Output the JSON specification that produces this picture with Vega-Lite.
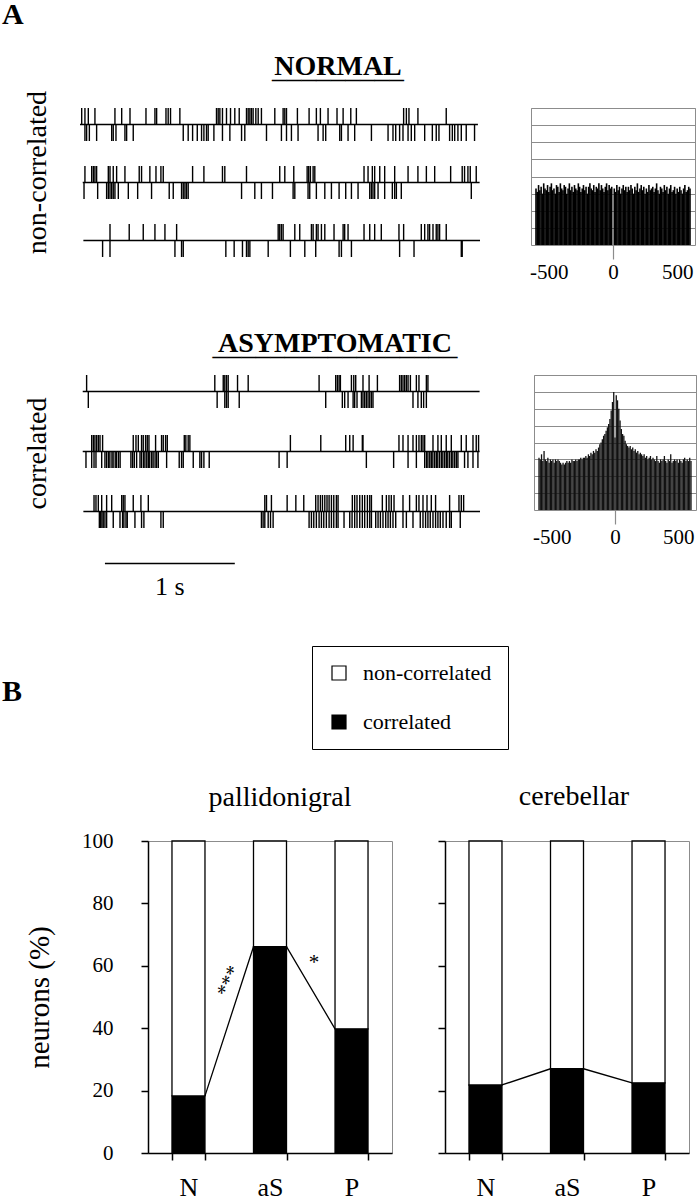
{
"$schema":"https://vega.github.io/schema/vega-lite/v6.json",
"background":"white",
"padding":{"left":2,"top":0,"right":0,"bottom":0},
"config":{
 "font":"Liberation Serif",
 "view":{"stroke":null},
 "title":{"font":"Liberation Serif","color":"black","subtitleFont":"Liberation Serif","subtitleColor":"black"},
 "axis":{"labelFont":"Liberation Serif","titleFont":"Liberation Serif","labelColor":"black","titleColor":"black","titleFontWeight":"normal"},
 "legend":{"labelFont":"Liberation Serif","labelColor":"black"}
},
"datasets":{
 "lines":[
  {"rec":"N","row":1,"t0":0,"t1":3064},{"rec":"N","row":2,"t0":21,"t1":3077},{"rec":"N","row":3,"t0":26,"t1":3080},
  {"rec":"A","row":1,"t0":21,"t1":3077},{"rec":"A","row":2,"t0":21,"t1":3077},{"rec":"A","row":3,"t0":26,"t1":3080}
 ],
 "scalebar":[{"rec":"A","row":"scale","t0":192,"t1":1192,"label":"1 s"}],
 "spikes":[
  {"rec":"N","row":1,"cell":"up","t":13},{"rec":"N","row":1,"cell":"up","t":38},{"rec":"N","row":1,"cell":"up","t":64},{"rec":"N","row":1,"cell":"up","t":115},{"rec":"N","row":1,"cell":"up","t":269},{"rec":"N","row":1,"cell":"up","t":321},{"rec":"N","row":1,"cell":"up","t":385},{"rec":"N","row":1,"cell":"up","t":508},{"rec":"N","row":1,"cell":"up","t":577},{"rec":"N","row":1,"cell":"up","t":590},{"rec":"N","row":1,"cell":"up","t":662},{"rec":"N","row":1,"cell":"up","t":679},{"rec":"N","row":1,"cell":"up","t":697},{"rec":"N","row":1,"cell":"up","t":769},{"rec":"N","row":1,"cell":"up","t":1051},{"rec":"N","row":1,"cell":"up","t":1064},{"rec":"N","row":1,"cell":"up","t":1077},{"rec":"N","row":1,"cell":"up","t":1097},{"rec":"N","row":1,"cell":"up","t":1128},{"rec":"N","row":1,"cell":"up","t":1159},{"rec":"N","row":1,"cell":"up","t":1192},{"rec":"N","row":1,"cell":"up","t":1226},{"rec":"N","row":1,"cell":"up","t":1282},{"rec":"N","row":1,"cell":"up","t":1295},{"rec":"N","row":1,"cell":"up","t":1308},{"rec":"N","row":1,"cell":"up","t":1320},{"rec":"N","row":1,"cell":"up","t":1333},{"rec":"N","row":1,"cell":"up","t":1354},{"rec":"N","row":1,"cell":"up","t":1372},{"rec":"N","row":1,"cell":"up","t":1397},{"rec":"N","row":1,"cell":"up","t":1500},{"rec":"N","row":1,"cell":"up","t":1564},{"rec":"N","row":1,"cell":"up","t":1577},{"rec":"N","row":1,"cell":"up","t":1590},{"rec":"N","row":1,"cell":"up","t":1674},{"rec":"N","row":1,"cell":"up","t":1764},{"rec":"N","row":1,"cell":"up","t":1820},{"rec":"N","row":1,"cell":"up","t":1851},{"rec":"N","row":1,"cell":"up","t":1910},{"rec":"N","row":1,"cell":"up","t":1979},{"rec":"N","row":1,"cell":"up","t":2026},{"rec":"N","row":1,"cell":"up","t":2085},{"rec":"N","row":1,"cell":"up","t":2128},{"rec":"N","row":1,"cell":"up","t":2492},{"rec":"N","row":1,"cell":"up","t":2513},{"rec":"N","row":1,"cell":"up","t":2533},{"rec":"N","row":1,"cell":"up","t":2602},{"rec":"N","row":1,"cell":"up","t":2820},
  {"rec":"N","row":1,"cell":"down","t":38},{"rec":"N","row":1,"cell":"down","t":51},{"rec":"N","row":1,"cell":"down","t":72},{"rec":"N","row":1,"cell":"down","t":128},{"rec":"N","row":1,"cell":"down","t":244},{"rec":"N","row":1,"cell":"down","t":256},{"rec":"N","row":1,"cell":"down","t":277},{"rec":"N","row":1,"cell":"down","t":346},{"rec":"N","row":1,"cell":"down","t":359},{"rec":"N","row":1,"cell":"down","t":410},{"rec":"N","row":1,"cell":"down","t":795},{"rec":"N","row":1,"cell":"down","t":833},{"rec":"N","row":1,"cell":"down","t":867},{"rec":"N","row":1,"cell":"down","t":903},{"rec":"N","row":1,"cell":"down","t":936},{"rec":"N","row":1,"cell":"down","t":954},{"rec":"N","row":1,"cell":"down","t":974},{"rec":"N","row":1,"cell":"down","t":987},{"rec":"N","row":1,"cell":"down","t":1031},{"rec":"N","row":1,"cell":"down","t":1097},{"rec":"N","row":1,"cell":"down","t":1154},{"rec":"N","row":1,"cell":"down","t":1244},{"rec":"N","row":1,"cell":"down","t":1269},{"rec":"N","row":1,"cell":"down","t":1436},{"rec":"N","row":1,"cell":"down","t":1551},{"rec":"N","row":1,"cell":"down","t":1590},{"rec":"N","row":1,"cell":"down","t":1628},{"rec":"N","row":1,"cell":"down","t":1679},{"rec":"N","row":1,"cell":"down","t":1833},{"rec":"N","row":1,"cell":"down","t":1872},{"rec":"N","row":1,"cell":"down","t":1892},{"rec":"N","row":1,"cell":"down","t":2000},{"rec":"N","row":1,"cell":"down","t":2013},{"rec":"N","row":1,"cell":"down","t":2064},{"rec":"N","row":1,"cell":"down","t":2115},{"rec":"N","row":1,"cell":"down","t":2244},{"rec":"N","row":1,"cell":"down","t":2372},{"rec":"N","row":1,"cell":"down","t":2410},{"rec":"N","row":1,"cell":"down","t":2431},{"rec":"N","row":1,"cell":"down","t":2461},{"rec":"N","row":1,"cell":"down","t":2487},{"rec":"N","row":1,"cell":"down","t":2526},{"rec":"N","row":1,"cell":"down","t":2551},{"rec":"N","row":1,"cell":"down","t":2577},{"rec":"N","row":1,"cell":"down","t":2654},{"rec":"N","row":1,"cell":"down","t":2713},{"rec":"N","row":1,"cell":"down","t":2743},{"rec":"N","row":1,"cell":"down","t":2764},{"rec":"N","row":1,"cell":"down","t":2846},{"rec":"N","row":1,"cell":"down","t":2867},{"rec":"N","row":1,"cell":"down","t":2885},{"rec":"N","row":1,"cell":"down","t":2910},{"rec":"N","row":1,"cell":"down","t":2936},{"rec":"N","row":1,"cell":"down","t":2974},{"rec":"N","row":1,"cell":"down","t":3038},
  {"rec":"N","row":2,"cell":"up","t":38},{"rec":"N","row":2,"cell":"up","t":90},{"rec":"N","row":2,"cell":"up","t":103},{"rec":"N","row":2,"cell":"up","t":115},{"rec":"N","row":2,"cell":"up","t":128},{"rec":"N","row":2,"cell":"up","t":218},{"rec":"N","row":2,"cell":"up","t":231},{"rec":"N","row":2,"cell":"up","t":256},{"rec":"N","row":2,"cell":"up","t":282},{"rec":"N","row":2,"cell":"up","t":346},{"rec":"N","row":2,"cell":"up","t":456},{"rec":"N","row":2,"cell":"up","t":474},{"rec":"N","row":2,"cell":"up","t":538},{"rec":"N","row":2,"cell":"up","t":585},{"rec":"N","row":2,"cell":"up","t":623},{"rec":"N","row":2,"cell":"up","t":641},{"rec":"N","row":2,"cell":"up","t":867},{"rec":"N","row":2,"cell":"up","t":954},{"rec":"N","row":2,"cell":"up","t":1097},{"rec":"N","row":2,"cell":"up","t":1115},{"rec":"N","row":2,"cell":"up","t":1282},{"rec":"N","row":2,"cell":"up","t":1538},{"rec":"N","row":2,"cell":"up","t":1577},{"rec":"N","row":2,"cell":"up","t":1646},{"rec":"N","row":2,"cell":"up","t":1749},{"rec":"N","row":2,"cell":"up","t":1761},{"rec":"N","row":2,"cell":"up","t":1774},{"rec":"N","row":2,"cell":"up","t":1795},{"rec":"N","row":2,"cell":"up","t":1808},{"rec":"N","row":2,"cell":"up","t":2187},{"rec":"N","row":2,"cell":"up","t":2218},{"rec":"N","row":2,"cell":"up","t":2251},{"rec":"N","row":2,"cell":"up","t":2269},{"rec":"N","row":2,"cell":"up","t":2308},{"rec":"N","row":2,"cell":"up","t":2346},{"rec":"N","row":2,"cell":"up","t":2423},{"rec":"N","row":2,"cell":"up","t":2526},{"rec":"N","row":2,"cell":"up","t":2602},{"rec":"N","row":2,"cell":"up","t":2667},{"rec":"N","row":2,"cell":"up","t":2731},{"rec":"N","row":2,"cell":"up","t":2854},{"rec":"N","row":2,"cell":"up","t":2943},{"rec":"N","row":2,"cell":"up","t":2961},{"rec":"N","row":2,"cell":"up","t":2987},{"rec":"N","row":2,"cell":"up","t":3005},{"rec":"N","row":2,"cell":"up","t":3051},
  {"rec":"N","row":2,"cell":"down","t":31},{"rec":"N","row":2,"cell":"down","t":136},{"rec":"N","row":2,"cell":"down","t":205},{"rec":"N","row":2,"cell":"down","t":218},{"rec":"N","row":2,"cell":"down","t":231},{"rec":"N","row":2,"cell":"down","t":244},{"rec":"N","row":2,"cell":"down","t":256},{"rec":"N","row":2,"cell":"down","t":269},{"rec":"N","row":2,"cell":"down","t":295},{"rec":"N","row":2,"cell":"down","t":372},{"rec":"N","row":2,"cell":"down","t":444},{"rec":"N","row":2,"cell":"down","t":551},{"rec":"N","row":2,"cell":"down","t":687},{"rec":"N","row":2,"cell":"down","t":718},{"rec":"N","row":2,"cell":"down","t":782},{"rec":"N","row":2,"cell":"down","t":795},{"rec":"N","row":2,"cell":"down","t":808},{"rec":"N","row":2,"cell":"down","t":820},{"rec":"N","row":2,"cell":"down","t":833},{"rec":"N","row":2,"cell":"down","t":1244},{"rec":"N","row":2,"cell":"down","t":1346},{"rec":"N","row":2,"cell":"down","t":1397},{"rec":"N","row":2,"cell":"down","t":1482},{"rec":"N","row":2,"cell":"down","t":1641},{"rec":"N","row":2,"cell":"down","t":1654},{"rec":"N","row":2,"cell":"down","t":1756},{"rec":"N","row":2,"cell":"down","t":1769},{"rec":"N","row":2,"cell":"down","t":1820},{"rec":"N","row":2,"cell":"down","t":1885},{"rec":"N","row":2,"cell":"down","t":1936},{"rec":"N","row":2,"cell":"down","t":1995},{"rec":"N","row":2,"cell":"down","t":2046},{"rec":"N","row":2,"cell":"down","t":2090},{"rec":"N","row":2,"cell":"down","t":2141},{"rec":"N","row":2,"cell":"down","t":2231},{"rec":"N","row":2,"cell":"down","t":2244},{"rec":"N","row":2,"cell":"down","t":2256},{"rec":"N","row":2,"cell":"down","t":2269},{"rec":"N","row":2,"cell":"down","t":2295},{"rec":"N","row":2,"cell":"down","t":2346},{"rec":"N","row":2,"cell":"down","t":2405},{"rec":"N","row":2,"cell":"down","t":2423},{"rec":"N","row":2,"cell":"down","t":2436},{"rec":"N","row":2,"cell":"down","t":2474},{"rec":"N","row":2,"cell":"down","t":3013},
  {"rec":"N","row":3,"cell":"up","t":231},{"rec":"N","row":3,"cell":"up","t":379},{"rec":"N","row":3,"cell":"up","t":487},{"rec":"N","row":3,"cell":"up","t":577},{"rec":"N","row":3,"cell":"up","t":654},{"rec":"N","row":3,"cell":"up","t":744},{"rec":"N","row":3,"cell":"up","t":1526},{"rec":"N","row":3,"cell":"up","t":1538},{"rec":"N","row":3,"cell":"up","t":1551},{"rec":"N","row":3,"cell":"up","t":1564},{"rec":"N","row":3,"cell":"up","t":1654},{"rec":"N","row":3,"cell":"up","t":1692},{"rec":"N","row":3,"cell":"up","t":1782},{"rec":"N","row":3,"cell":"up","t":1795},{"rec":"N","row":3,"cell":"up","t":1820},{"rec":"N","row":3,"cell":"up","t":1833},{"rec":"N","row":3,"cell":"up","t":1859},{"rec":"N","row":3,"cell":"up","t":1885},{"rec":"N","row":3,"cell":"up","t":1956},{"rec":"N","row":3,"cell":"up","t":2026},{"rec":"N","row":3,"cell":"up","t":2038},{"rec":"N","row":3,"cell":"up","t":2064},{"rec":"N","row":3,"cell":"up","t":2187},{"rec":"N","row":3,"cell":"up","t":2231},{"rec":"N","row":3,"cell":"up","t":2269},{"rec":"N","row":3,"cell":"up","t":2320},{"rec":"N","row":3,"cell":"up","t":2456},{"rec":"N","row":3,"cell":"up","t":2492},{"rec":"N","row":3,"cell":"up","t":2628},{"rec":"N","row":3,"cell":"up","t":2654},{"rec":"N","row":3,"cell":"up","t":2679},{"rec":"N","row":3,"cell":"up","t":2692},{"rec":"N","row":3,"cell":"up","t":2718},{"rec":"N","row":3,"cell":"up","t":2743},{"rec":"N","row":3,"cell":"up","t":2756},{"rec":"N","row":3,"cell":"up","t":2769},{"rec":"N","row":3,"cell":"up","t":2820},
  {"rec":"N","row":3,"cell":"down","t":174},{"rec":"N","row":3,"cell":"down","t":231},{"rec":"N","row":3,"cell":"down","t":731},{"rec":"N","row":3,"cell":"down","t":782},{"rec":"N","row":3,"cell":"down","t":795},{"rec":"N","row":3,"cell":"down","t":1123},{"rec":"N","row":3,"cell":"down","t":1187},{"rec":"N","row":3,"cell":"down","t":1251},{"rec":"N","row":3,"cell":"down","t":1282},{"rec":"N","row":3,"cell":"down","t":1295},{"rec":"N","row":3,"cell":"down","t":1308},{"rec":"N","row":3,"cell":"down","t":1449},{"rec":"N","row":3,"cell":"down","t":1620},{"rec":"N","row":3,"cell":"down","t":1731},{"rec":"N","row":3,"cell":"down","t":1815},{"rec":"N","row":3,"cell":"down","t":1995},{"rec":"N","row":3,"cell":"down","t":2013},{"rec":"N","row":3,"cell":"down","t":2090},{"rec":"N","row":3,"cell":"down","t":2461},{"rec":"N","row":3,"cell":"down","t":2572},{"rec":"N","row":3,"cell":"down","t":2936},{"rec":"N","row":3,"cell":"down","t":2943},
  {"rec":"A","row":1,"cell":"up","t":51},{"rec":"A","row":1,"cell":"up","t":1038},{"rec":"A","row":1,"cell":"up","t":1103},{"rec":"A","row":1,"cell":"up","t":1115},{"rec":"A","row":1,"cell":"up","t":1128},{"rec":"A","row":1,"cell":"up","t":1141},{"rec":"A","row":1,"cell":"up","t":1213},{"rec":"A","row":1,"cell":"up","t":1295},{"rec":"A","row":1,"cell":"up","t":1841},{"rec":"A","row":1,"cell":"up","t":1969},{"rec":"A","row":1,"cell":"up","t":1982},{"rec":"A","row":1,"cell":"up","t":1995},{"rec":"A","row":1,"cell":"up","t":2005},{"rec":"A","row":1,"cell":"up","t":2090},{"rec":"A","row":1,"cell":"up","t":2108},{"rec":"A","row":1,"cell":"up","t":2123},{"rec":"A","row":1,"cell":"up","t":2179},{"rec":"A","row":1,"cell":"up","t":2226},{"rec":"A","row":1,"cell":"up","t":2290},{"rec":"A","row":1,"cell":"up","t":2461},{"rec":"A","row":1,"cell":"up","t":2474},{"rec":"A","row":1,"cell":"up","t":2487},{"rec":"A","row":1,"cell":"up","t":2500},{"rec":"A","row":1,"cell":"up","t":2513},{"rec":"A","row":1,"cell":"up","t":2526},{"rec":"A","row":1,"cell":"up","t":2544},{"rec":"A","row":1,"cell":"up","t":2590},{"rec":"A","row":1,"cell":"up","t":2610},{"rec":"A","row":1,"cell":"up","t":2667},{"rec":"A","row":1,"cell":"up","t":2679},
  {"rec":"A","row":1,"cell":"down","t":64},{"rec":"A","row":1,"cell":"down","t":1056},{"rec":"A","row":1,"cell":"down","t":1115},{"rec":"A","row":1,"cell":"down","t":1128},{"rec":"A","row":1,"cell":"down","t":1141},{"rec":"A","row":1,"cell":"down","t":1226},{"rec":"A","row":1,"cell":"down","t":1892},{"rec":"A","row":1,"cell":"down","t":2020},{"rec":"A","row":1,"cell":"down","t":2038},{"rec":"A","row":1,"cell":"down","t":2064},{"rec":"A","row":1,"cell":"down","t":2103},{"rec":"A","row":1,"cell":"down","t":2115},{"rec":"A","row":1,"cell":"down","t":2133},{"rec":"A","row":1,"cell":"down","t":2167},{"rec":"A","row":1,"cell":"down","t":2179},{"rec":"A","row":1,"cell":"down","t":2192},{"rec":"A","row":1,"cell":"down","t":2205},{"rec":"A","row":1,"cell":"down","t":2218},{"rec":"A","row":1,"cell":"down","t":2231},{"rec":"A","row":1,"cell":"down","t":2244},{"rec":"A","row":1,"cell":"down","t":2256},{"rec":"A","row":1,"cell":"down","t":2564},{"rec":"A","row":1,"cell":"down","t":2602},{"rec":"A","row":1,"cell":"down","t":2628},{"rec":"A","row":1,"cell":"down","t":2646},{"rec":"A","row":1,"cell":"down","t":2667},
  {"rec":"A","row":2,"cell":"up","t":90},{"rec":"A","row":2,"cell":"up","t":103},{"rec":"A","row":2,"cell":"up","t":115},{"rec":"A","row":2,"cell":"up","t":128},{"rec":"A","row":2,"cell":"up","t":141},{"rec":"A","row":2,"cell":"up","t":154},{"rec":"A","row":2,"cell":"up","t":174},{"rec":"A","row":2,"cell":"up","t":410},{"rec":"A","row":2,"cell":"up","t":431},{"rec":"A","row":2,"cell":"up","t":449},{"rec":"A","row":2,"cell":"up","t":474},{"rec":"A","row":2,"cell":"up","t":487},{"rec":"A","row":2,"cell":"up","t":505},{"rec":"A","row":2,"cell":"up","t":518},{"rec":"A","row":2,"cell":"up","t":531},{"rec":"A","row":2,"cell":"up","t":582},{"rec":"A","row":2,"cell":"up","t":628},{"rec":"A","row":2,"cell":"up","t":641},{"rec":"A","row":2,"cell":"up","t":659},{"rec":"A","row":2,"cell":"up","t":672},{"rec":"A","row":2,"cell":"up","t":803},{"rec":"A","row":2,"cell":"up","t":815},{"rec":"A","row":2,"cell":"up","t":833},{"rec":"A","row":2,"cell":"up","t":846},{"rec":"A","row":2,"cell":"up","t":1620},{"rec":"A","row":2,"cell":"up","t":1854},{"rec":"A","row":2,"cell":"up","t":2046},{"rec":"A","row":2,"cell":"up","t":2077},{"rec":"A","row":2,"cell":"up","t":2103},{"rec":"A","row":2,"cell":"up","t":2174},{"rec":"A","row":2,"cell":"up","t":2179},{"rec":"A","row":2,"cell":"up","t":2456},{"rec":"A","row":2,"cell":"up","t":2487},{"rec":"A","row":2,"cell":"up","t":2526},{"rec":"A","row":2,"cell":"up","t":2564},{"rec":"A","row":2,"cell":"up","t":2590},{"rec":"A","row":2,"cell":"up","t":2610},{"rec":"A","row":2,"cell":"up","t":2628},{"rec":"A","row":2,"cell":"up","t":2641},{"rec":"A","row":2,"cell":"up","t":2654},{"rec":"A","row":2,"cell":"up","t":2718},{"rec":"A","row":2,"cell":"up","t":2756},{"rec":"A","row":2,"cell":"up","t":2782},{"rec":"A","row":2,"cell":"up","t":2820},{"rec":"A","row":2,"cell":"up","t":2859},{"rec":"A","row":2,"cell":"up","t":2936},{"rec":"A","row":2,"cell":"up","t":2974},{"rec":"A","row":2,"cell":"up","t":3026},{"rec":"A","row":2,"cell":"up","t":3051},{"rec":"A","row":2,"cell":"up","t":3069},
  {"rec":"A","row":2,"cell":"down","t":46},{"rec":"A","row":2,"cell":"down","t":90},{"rec":"A","row":2,"cell":"down","t":108},{"rec":"A","row":2,"cell":"down","t":123},{"rec":"A","row":2,"cell":"down","t":167},{"rec":"A","row":2,"cell":"down","t":192},{"rec":"A","row":2,"cell":"down","t":205},{"rec":"A","row":2,"cell":"down","t":219},{"rec":"A","row":2,"cell":"down","t":230},{"rec":"A","row":2,"cell":"down","t":246},{"rec":"A","row":2,"cell":"down","t":255},{"rec":"A","row":2,"cell":"down","t":271},{"rec":"A","row":2,"cell":"down","t":281},{"rec":"A","row":2,"cell":"down","t":296},{"rec":"A","row":2,"cell":"down","t":309},{"rec":"A","row":2,"cell":"down","t":392},{"rec":"A","row":2,"cell":"down","t":405},{"rec":"A","row":2,"cell":"down","t":418},{"rec":"A","row":2,"cell":"down","t":436},{"rec":"A","row":2,"cell":"down","t":462},{"rec":"A","row":2,"cell":"down","t":474},{"rec":"A","row":2,"cell":"down","t":489},{"rec":"A","row":2,"cell":"down","t":500},{"rec":"A","row":2,"cell":"down","t":514},{"rec":"A","row":2,"cell":"down","t":526},{"rec":"A","row":2,"cell":"down","t":537},{"rec":"A","row":2,"cell":"down","t":552},{"rec":"A","row":2,"cell":"down","t":563},{"rec":"A","row":2,"cell":"down","t":578},{"rec":"A","row":2,"cell":"down","t":590},{"rec":"A","row":2,"cell":"down","t":603},{"rec":"A","row":2,"cell":"down","t":667},{"rec":"A","row":2,"cell":"down","t":764},{"rec":"A","row":2,"cell":"down","t":782},{"rec":"A","row":2,"cell":"down","t":795},{"rec":"A","row":2,"cell":"down","t":872},{"rec":"A","row":2,"cell":"down","t":923},{"rec":"A","row":2,"cell":"down","t":936},{"rec":"A","row":2,"cell":"down","t":954},{"rec":"A","row":2,"cell":"down","t":995},{"rec":"A","row":2,"cell":"down","t":1533},{"rec":"A","row":2,"cell":"down","t":1595},{"rec":"A","row":2,"cell":"down","t":2205},{"rec":"A","row":2,"cell":"down","t":2415},{"rec":"A","row":2,"cell":"down","t":2526},{"rec":"A","row":2,"cell":"down","t":2590},{"rec":"A","row":2,"cell":"down","t":2654},{"rec":"A","row":2,"cell":"down","t":2668},{"rec":"A","row":2,"cell":"down","t":2679},{"rec":"A","row":2,"cell":"down","t":2693},{"rec":"A","row":2,"cell":"down","t":2705},{"rec":"A","row":2,"cell":"down","t":2717},{"rec":"A","row":2,"cell":"down","t":2731},{"rec":"A","row":2,"cell":"down","t":2744},{"rec":"A","row":2,"cell":"down","t":2755},{"rec":"A","row":2,"cell":"down","t":2769},{"rec":"A","row":2,"cell":"down","t":2783},{"rec":"A","row":2,"cell":"down","t":2794},{"rec":"A","row":2,"cell":"down","t":2808},{"rec":"A","row":2,"cell":"down","t":2821},{"rec":"A","row":2,"cell":"down","t":2832},{"rec":"A","row":2,"cell":"down","t":2846},{"rec":"A","row":2,"cell":"down","t":2860},{"rec":"A","row":2,"cell":"down","t":2871},{"rec":"A","row":2,"cell":"down","t":2885},{"rec":"A","row":2,"cell":"down","t":2898},{"rec":"A","row":2,"cell":"down","t":2910},{"rec":"A","row":2,"cell":"down","t":2961},{"rec":"A","row":2,"cell":"down","t":2987},{"rec":"A","row":2,"cell":"down","t":3026},{"rec":"A","row":2,"cell":"down","t":3064},
  {"rec":"A","row":3,"cell":"up","t":108},{"rec":"A","row":3,"cell":"up","t":123},{"rec":"A","row":3,"cell":"up","t":141},{"rec":"A","row":3,"cell":"up","t":167},{"rec":"A","row":3,"cell":"up","t":205},{"rec":"A","row":3,"cell":"up","t":244},{"rec":"A","row":3,"cell":"up","t":321},{"rec":"A","row":3,"cell":"up","t":333},{"rec":"A","row":3,"cell":"up","t":346},{"rec":"A","row":3,"cell":"up","t":410},{"rec":"A","row":3,"cell":"up","t":469},{"rec":"A","row":3,"cell":"up","t":526},{"rec":"A","row":3,"cell":"up","t":1423},{"rec":"A","row":3,"cell":"up","t":1436},{"rec":"A","row":3,"cell":"up","t":1474},{"rec":"A","row":3,"cell":"up","t":1595},{"rec":"A","row":3,"cell":"up","t":1662},{"rec":"A","row":3,"cell":"up","t":1723},{"rec":"A","row":3,"cell":"up","t":1815},{"rec":"A","row":3,"cell":"up","t":1833},{"rec":"A","row":3,"cell":"up","t":1851},{"rec":"A","row":3,"cell":"up","t":1867},{"rec":"A","row":3,"cell":"up","t":1885},{"rec":"A","row":3,"cell":"up","t":1902},{"rec":"A","row":3,"cell":"up","t":1918},{"rec":"A","row":3,"cell":"up","t":1936},{"rec":"A","row":3,"cell":"up","t":1954},{"rec":"A","row":3,"cell":"up","t":1974},{"rec":"A","row":3,"cell":"up","t":1987},{"rec":"A","row":3,"cell":"up","t":2097},{"rec":"A","row":3,"cell":"up","t":2115},{"rec":"A","row":3,"cell":"up","t":2133},{"rec":"A","row":3,"cell":"up","t":2154},{"rec":"A","row":3,"cell":"up","t":2174},{"rec":"A","row":3,"cell":"up","t":2192},{"rec":"A","row":3,"cell":"up","t":2213},{"rec":"A","row":3,"cell":"up","t":2231},{"rec":"A","row":3,"cell":"up","t":2244},{"rec":"A","row":3,"cell":"up","t":2328},{"rec":"A","row":3,"cell":"up","t":2359},{"rec":"A","row":3,"cell":"up","t":2379},{"rec":"A","row":3,"cell":"up","t":2397},{"rec":"A","row":3,"cell":"up","t":2418},{"rec":"A","row":3,"cell":"up","t":2487},{"rec":"A","row":3,"cell":"up","t":2538},{"rec":"A","row":3,"cell":"up","t":2590},{"rec":"A","row":3,"cell":"up","t":2610},{"rec":"A","row":3,"cell":"up","t":2641},{"rec":"A","row":3,"cell":"up","t":2672},{"rec":"A","row":3,"cell":"up","t":2705},{"rec":"A","row":3,"cell":"up","t":2738},{"rec":"A","row":3,"cell":"up","t":2846},{"rec":"A","row":3,"cell":"up","t":2918},{"rec":"A","row":3,"cell":"up","t":2936},{"rec":"A","row":3,"cell":"up","t":2954},
  {"rec":"A","row":3,"cell":"down","t":149},{"rec":"A","row":3,"cell":"down","t":159},{"rec":"A","row":3,"cell":"down","t":169},{"rec":"A","row":3,"cell":"down","t":179},{"rec":"A","row":3,"cell":"down","t":192},{"rec":"A","row":3,"cell":"down","t":205},{"rec":"A","row":3,"cell":"down","t":256},{"rec":"A","row":3,"cell":"down","t":308},{"rec":"A","row":3,"cell":"down","t":328},{"rec":"A","row":3,"cell":"down","t":338},{"rec":"A","row":3,"cell":"down","t":354},{"rec":"A","row":3,"cell":"down","t":364},{"rec":"A","row":3,"cell":"down","t":423},{"rec":"A","row":3,"cell":"down","t":474},{"rec":"A","row":3,"cell":"down","t":492},{"rec":"A","row":3,"cell":"down","t":623},{"rec":"A","row":3,"cell":"down","t":641},{"rec":"A","row":3,"cell":"down","t":1397},{"rec":"A","row":3,"cell":"down","t":1410},{"rec":"A","row":3,"cell":"down","t":1423},{"rec":"A","row":3,"cell":"down","t":1449},{"rec":"A","row":3,"cell":"down","t":1467},{"rec":"A","row":3,"cell":"down","t":1487},{"rec":"A","row":3,"cell":"down","t":1764},{"rec":"A","row":3,"cell":"down","t":1782},{"rec":"A","row":3,"cell":"down","t":1800},{"rec":"A","row":3,"cell":"down","t":1820},{"rec":"A","row":3,"cell":"down","t":1841},{"rec":"A","row":3,"cell":"down","t":1859},{"rec":"A","row":3,"cell":"down","t":1877},{"rec":"A","row":3,"cell":"down","t":1897},{"rec":"A","row":3,"cell":"down","t":1918},{"rec":"A","row":3,"cell":"down","t":1936},{"rec":"A","row":3,"cell":"down","t":1954},{"rec":"A","row":3,"cell":"down","t":1974},{"rec":"A","row":3,"cell":"down","t":1987},{"rec":"A","row":3,"cell":"down","t":2033},{"rec":"A","row":3,"cell":"down","t":2077},{"rec":"A","row":3,"cell":"down","t":2095},{"rec":"A","row":3,"cell":"down","t":2115},{"rec":"A","row":3,"cell":"down","t":2133},{"rec":"A","row":3,"cell":"down","t":2154},{"rec":"A","row":3,"cell":"down","t":2174},{"rec":"A","row":3,"cell":"down","t":2192},{"rec":"A","row":3,"cell":"down","t":2213},{"rec":"A","row":3,"cell":"down","t":2231},{"rec":"A","row":3,"cell":"down","t":2244},{"rec":"A","row":3,"cell":"down","t":2277},{"rec":"A","row":3,"cell":"down","t":2295},{"rec":"A","row":3,"cell":"down","t":2313},{"rec":"A","row":3,"cell":"down","t":2333},{"rec":"A","row":3,"cell":"down","t":2354},{"rec":"A","row":3,"cell":"down","t":2372},{"rec":"A","row":3,"cell":"down","t":2390},{"rec":"A","row":3,"cell":"down","t":2410},{"rec":"A","row":3,"cell":"down","t":2431},{"rec":"A","row":3,"cell":"down","t":2487},{"rec":"A","row":3,"cell":"down","t":2513},{"rec":"A","row":3,"cell":"down","t":2564},{"rec":"A","row":3,"cell":"down","t":2620},{"rec":"A","row":3,"cell":"down","t":2641},{"rec":"A","row":3,"cell":"down","t":2661},{"rec":"A","row":3,"cell":"down","t":2679},{"rec":"A","row":3,"cell":"down","t":2697},{"rec":"A","row":3,"cell":"down","t":2718},{"rec":"A","row":3,"cell":"down","t":2738},{"rec":"A","row":3,"cell":"down","t":2756},{"rec":"A","row":3,"cell":"down","t":2774},{"rec":"A","row":3,"cell":"down","t":2795},{"rec":"A","row":3,"cell":"down","t":2820},{"rec":"A","row":3,"cell":"down","t":2846},{"rec":"A","row":3,"cell":"down","t":2859},{"rec":"A","row":3,"cell":"down","t":2928}
 ],
 "ccg":[
  {"rec":"N","lag":-600,"n":3.3},{"rec":"N","lag":-590,"n":3.1},{"rec":"N","lag":-580,"n":3.5},{"rec":"N","lag":-570,"n":3.2},{"rec":"N","lag":-560,"n":3.4},{"rec":"N","lag":-550,"n":3.0},{"rec":"N","lag":-540,"n":3.6},{"rec":"N","lag":-530,"n":3.3},{"rec":"N","lag":-520,"n":3.2},{"rec":"N","lag":-510,"n":3.5},
  {"rec":"N","lag":-500,"n":3.1},{"rec":"N","lag":-490,"n":3.4},{"rec":"N","lag":-480,"n":3.6},{"rec":"N","lag":-470,"n":3.2},{"rec":"N","lag":-460,"n":3.3},{"rec":"N","lag":-450,"n":3.0},{"rec":"N","lag":-440,"n":3.5},{"rec":"N","lag":-430,"n":3.4},{"rec":"N","lag":-420,"n":3.1},{"rec":"N","lag":-410,"n":3.6},
  {"rec":"N","lag":-400,"n":3.3},{"rec":"N","lag":-390,"n":3.2},{"rec":"N","lag":-380,"n":3.5},{"rec":"N","lag":-370,"n":3.4},{"rec":"N","lag":-360,"n":3.0},{"rec":"N","lag":-350,"n":3.3},{"rec":"N","lag":-340,"n":3.6},{"rec":"N","lag":-330,"n":3.2},{"rec":"N","lag":-320,"n":3.4},{"rec":"N","lag":-310,"n":3.1},
  {"rec":"N","lag":-300,"n":3.5},{"rec":"N","lag":-290,"n":3.3},{"rec":"N","lag":-280,"n":3.2},{"rec":"N","lag":-270,"n":3.6},{"rec":"N","lag":-260,"n":3.4},{"rec":"N","lag":-250,"n":3.1},{"rec":"N","lag":-240,"n":3.3},{"rec":"N","lag":-230,"n":3.5},{"rec":"N","lag":-220,"n":3.2},{"rec":"N","lag":-210,"n":3.4},
  {"rec":"N","lag":-200,"n":3.0},{"rec":"N","lag":-190,"n":3.4},{"rec":"N","lag":-180,"n":3.6},{"rec":"N","lag":-170,"n":3.3},{"rec":"N","lag":-160,"n":3.2},{"rec":"N","lag":-150,"n":3.5},{"rec":"N","lag":-140,"n":3.1},{"rec":"N","lag":-130,"n":3.4},{"rec":"N","lag":-120,"n":3.3},{"rec":"N","lag":-110,"n":3.6},
  {"rec":"N","lag":-100,"n":3.2},{"rec":"N","lag":-90,"n":3.5},{"rec":"N","lag":-80,"n":3.3},{"rec":"N","lag":-70,"n":3.1},{"rec":"N","lag":-60,"n":3.4},{"rec":"N","lag":-50,"n":3.6},{"rec":"N","lag":-40,"n":3.2},{"rec":"N","lag":-30,"n":3.5},{"rec":"N","lag":-20,"n":3.3},{"rec":"N","lag":-10,"n":3.4},
  {"rec":"N","lag":0,"n":0},
  {"rec":"N","lag":10,"n":3.3},{"rec":"N","lag":20,"n":3.1},{"rec":"N","lag":30,"n":3.5},{"rec":"N","lag":40,"n":3.2},{"rec":"N","lag":50,"n":3.4},{"rec":"N","lag":60,"n":3.0},{"rec":"N","lag":70,"n":3.3},{"rec":"N","lag":80,"n":3.5},{"rec":"N","lag":90,"n":3.2},{"rec":"N","lag":100,"n":3.4},
  {"rec":"N","lag":110,"n":3.1},{"rec":"N","lag":120,"n":3.4},{"rec":"N","lag":130,"n":3.2},{"rec":"N","lag":140,"n":3.5},{"rec":"N","lag":150,"n":3.3},{"rec":"N","lag":160,"n":3.0},{"rec":"N","lag":170,"n":3.4},{"rec":"N","lag":180,"n":3.2},{"rec":"N","lag":190,"n":3.6},{"rec":"N","lag":200,"n":3.1},
  {"rec":"N","lag":210,"n":3.3},{"rec":"N","lag":220,"n":3.5},{"rec":"N","lag":230,"n":3.2},{"rec":"N","lag":240,"n":3.4},{"rec":"N","lag":250,"n":3.0},{"rec":"N","lag":260,"n":3.3},{"rec":"N","lag":270,"n":3.1},{"rec":"N","lag":280,"n":3.5},{"rec":"N","lag":290,"n":3.2},{"rec":"N","lag":300,"n":3.3},
  {"rec":"N","lag":310,"n":3.4},{"rec":"N","lag":320,"n":3.1},{"rec":"N","lag":330,"n":3.3},{"rec":"N","lag":340,"n":3.6},{"rec":"N","lag":350,"n":3.2},{"rec":"N","lag":360,"n":3.0},{"rec":"N","lag":370,"n":3.4},{"rec":"N","lag":380,"n":3.3},{"rec":"N","lag":390,"n":3.1},{"rec":"N","lag":400,"n":3.5},
  {"rec":"N","lag":410,"n":3.2},{"rec":"N","lag":420,"n":3.4},{"rec":"N","lag":430,"n":3.0},{"rec":"N","lag":440,"n":3.3},{"rec":"N","lag":450,"n":3.5},{"rec":"N","lag":460,"n":3.1},{"rec":"N","lag":470,"n":3.2},{"rec":"N","lag":480,"n":3.4},{"rec":"N","lag":490,"n":3.0},{"rec":"N","lag":500,"n":3.3},
  {"rec":"N","lag":510,"n":3.1},{"rec":"N","lag":520,"n":3.4},{"rec":"N","lag":530,"n":3.2},{"rec":"N","lag":540,"n":3.0},{"rec":"N","lag":550,"n":3.3},{"rec":"N","lag":560,"n":3.5},{"rec":"N","lag":570,"n":3.1},{"rec":"N","lag":580,"n":3.2},{"rec":"N","lag":590,"n":3.4},{"rec":"N","lag":600,"n":3.3},
  {"rec":"A","lag":-600,"n":3.1},{"rec":"A","lag":-590,"n":3.0},{"rec":"A","lag":-580,"n":3.3},{"rec":"A","lag":-570,"n":2.9},{"rec":"A","lag":-560,"n":3.5},{"rec":"A","lag":-550,"n":3.0},{"rec":"A","lag":-540,"n":2.9},{"rec":"A","lag":-530,"n":3.1},{"rec":"A","lag":-520,"n":2.8},{"rec":"A","lag":-510,"n":3.0},
  {"rec":"A","lag":-500,"n":2.9},{"rec":"A","lag":-490,"n":3.0},{"rec":"A","lag":-480,"n":2.8},{"rec":"A","lag":-470,"n":3.0},{"rec":"A","lag":-460,"n":2.9},{"rec":"A","lag":-450,"n":3.0},{"rec":"A","lag":-440,"n":2.9},{"rec":"A","lag":-430,"n":2.8},{"rec":"A","lag":-420,"n":2.7},{"rec":"A","lag":-410,"n":2.8},
  {"rec":"A","lag":-400,"n":2.7},{"rec":"A","lag":-390,"n":2.8},{"rec":"A","lag":-380,"n":2.9},{"rec":"A","lag":-370,"n":2.8},{"rec":"A","lag":-360,"n":2.9},{"rec":"A","lag":-350,"n":2.8},{"rec":"A","lag":-340,"n":3.0},{"rec":"A","lag":-330,"n":2.9},{"rec":"A","lag":-320,"n":2.9},{"rec":"A","lag":-310,"n":3.0},
  {"rec":"A","lag":-300,"n":2.9},{"rec":"A","lag":-290,"n":3.0},{"rec":"A","lag":-280,"n":3.0},{"rec":"A","lag":-270,"n":3.1},{"rec":"A","lag":-260,"n":3.0},{"rec":"A","lag":-250,"n":3.1},{"rec":"A","lag":-240,"n":3.1},{"rec":"A","lag":-230,"n":3.2},{"rec":"A","lag":-220,"n":3.1},{"rec":"A","lag":-210,"n":3.3},
  {"rec":"A","lag":-200,"n":3.2},{"rec":"A","lag":-190,"n":3.4},{"rec":"A","lag":-180,"n":3.3},{"rec":"A","lag":-170,"n":3.5},{"rec":"A","lag":-160,"n":3.4},{"rec":"A","lag":-150,"n":3.6},{"rec":"A","lag":-140,"n":3.5},{"rec":"A","lag":-130,"n":3.7},{"rec":"A","lag":-120,"n":3.9},{"rec":"A","lag":-110,"n":4.0},
  {"rec":"A","lag":-100,"n":4.2},{"rec":"A","lag":-90,"n":4.4},{"rec":"A","lag":-80,"n":4.5},{"rec":"A","lag":-70,"n":4.7},{"rec":"A","lag":-60,"n":4.9},{"rec":"A","lag":-50,"n":5.1},{"rec":"A","lag":-40,"n":5.4},{"rec":"A","lag":-30,"n":5.9},{"rec":"A","lag":-20,"n":6.4},{"rec":"A","lag":-10,"n":7.0},
  {"rec":"A","lag":0,"n":4.3},
  {"rec":"A","lag":10,"n":6.8},{"rec":"A","lag":20,"n":6.5},{"rec":"A","lag":30,"n":6.0},{"rec":"A","lag":40,"n":5.3},{"rec":"A","lag":50,"n":4.8},{"rec":"A","lag":60,"n":4.5},{"rec":"A","lag":70,"n":4.4},{"rec":"A","lag":80,"n":4.1},{"rec":"A","lag":90,"n":3.9},{"rec":"A","lag":100,"n":3.8},
  {"rec":"A","lag":110,"n":3.7},{"rec":"A","lag":120,"n":3.8},{"rec":"A","lag":130,"n":3.6},{"rec":"A","lag":140,"n":3.7},{"rec":"A","lag":150,"n":3.5},{"rec":"A","lag":160,"n":3.6},{"rec":"A","lag":170,"n":3.4},{"rec":"A","lag":180,"n":3.5},{"rec":"A","lag":190,"n":3.3},{"rec":"A","lag":200,"n":3.4},
  {"rec":"A","lag":210,"n":3.3},{"rec":"A","lag":220,"n":3.2},{"rec":"A","lag":230,"n":3.3},{"rec":"A","lag":240,"n":3.1},{"rec":"A","lag":250,"n":3.2},{"rec":"A","lag":260,"n":3.0},{"rec":"A","lag":270,"n":3.1},{"rec":"A","lag":280,"n":3.2},{"rec":"A","lag":290,"n":3.0},{"rec":"A","lag":300,"n":3.1},
  {"rec":"A","lag":310,"n":3.0},{"rec":"A","lag":320,"n":2.9},{"rec":"A","lag":330,"n":3.2},{"rec":"A","lag":340,"n":2.9},{"rec":"A","lag":350,"n":2.8},{"rec":"A","lag":360,"n":3.0},{"rec":"A","lag":370,"n":2.9},{"rec":"A","lag":380,"n":3.0},{"rec":"A","lag":390,"n":3.2},{"rec":"A","lag":400,"n":2.9},
  {"rec":"A","lag":410,"n":2.8},{"rec":"A","lag":420,"n":3.0},{"rec":"A","lag":430,"n":2.9},{"rec":"A","lag":440,"n":3.3},{"rec":"A","lag":450,"n":2.8},{"rec":"A","lag":460,"n":2.9},{"rec":"A","lag":470,"n":3.0},{"rec":"A","lag":480,"n":2.9},{"rec":"A","lag":490,"n":3.0},{"rec":"A","lag":500,"n":2.8},
  {"rec":"A","lag":510,"n":3.0},{"rec":"A","lag":520,"n":2.9},{"rec":"A","lag":530,"n":2.8},{"rec":"A","lag":540,"n":3.0},{"rec":"A","lag":550,"n":3.1},{"rec":"A","lag":560,"n":2.9},{"rec":"A","lag":570,"n":3.0},{"rec":"A","lag":580,"n":2.9},{"rec":"A","lag":590,"n":3.1},{"rec":"A","lag":600,"n":2.9}
 ],
 "bars":[
  {"region":"pallidonigral","group":"N","type":"correlated","pct":18.3},{"region":"pallidonigral","group":"N","type":"non-correlated","pct":81.7},
  {"region":"pallidonigral","group":"aS","type":"correlated","pct":66.1},{"region":"pallidonigral","group":"aS","type":"non-correlated","pct":33.9},
  {"region":"pallidonigral","group":"P","type":"correlated","pct":39.8},{"region":"pallidonigral","group":"P","type":"non-correlated","pct":60.2},
  {"region":"cerebellar","group":"N","type":"correlated","pct":21.8},{"region":"cerebellar","group":"N","type":"non-correlated","pct":78.2},
  {"region":"cerebellar","group":"aS","type":"correlated","pct":27.0},{"region":"cerebellar","group":"aS","type":"non-correlated","pct":73.0},
  {"region":"cerebellar","group":"P","type":"correlated","pct":22.5},{"region":"cerebellar","group":"P","type":"non-correlated","pct":77.5}
 ],
 "links":[
  {"region":"pallidonigral","group":"N","edge":"right","pct":18.3},{"region":"pallidonigral","group":"aS","edge":"left","pct":66.1},{"region":"pallidonigral","group":"aS","edge":"right","pct":66.1},{"region":"pallidonigral","group":"P","edge":"left","pct":39.8},
  {"region":"cerebellar","group":"N","edge":"right","pct":21.8},{"region":"cerebellar","group":"aS","edge":"left","pct":27.0},{"region":"cerebellar","group":"aS","edge":"right","pct":27.0},{"region":"cerebellar","group":"P","edge":"left","pct":22.5}
 ],
 "stars":[
  {"region":"pallidonigral","group":"aS","pct":55,"label":"***"},
  {"region":"pallidonigral","group":"P","pct":61,"label":"*"}
 ]
},
"spacing":45,
"resolve":{"scale":{"x":"independent","y":"independent","fill":"independent"},"legend":{"fill":"independent"}},
"vconcat":[
 {
  "title":{"text":"A","anchor":"start","frame":"group","fontSize":30,"fontWeight":"bold","baseline":"alphabetic","offset":-1,"dx":-78},
  "spacing":46,
  "resolve":{"scale":{"x":"independent","y":"independent"}},
  "vconcat":[
   {"bounds":"flush","spacing":51,"resolve":{"scale":{"x":"independent","y":"independent"}},
    "hconcat":[
     {
      "width":400,"height":149,
      "title":{"text":"NORMAL","subtitle":"_________","fontSize":28,"fontWeight":"bold","baseline":"alphabetic","offset":-16,"dx":58,"subtitleFontSize":29.3,"subtitlePadding":-25},
      "layer":[
       {"data":{"name":"lines"},"transform":[{"filter":"datum.rec === 'N'"}],
        "mark":{"type":"rule","color":"black","strokeWidth":1.5},
        "encoding":{
         "y":{"field":"row","type":"nominal","bandPosition":0.5,"scale":{"type":"band","domain":[1,2,3],"paddingInner":0.431,"paddingOuter":0},
              "axis":{"title":"non-correlated","labels":false,"ticks":false,"domain":false,"titleFontSize":28,"titlePadding":29,"titleY":64}},
         "x":{"field":"t0","type":"quantitative","scale":{"domain":[0,3080],"nice":false,"zero":false},"axis":null},
         "x2":{"field":"t1"}}},
       {"data":{"name":"spikes"},"transform":[{"filter":"datum.rec === 'N'"}],
        "mark":{"type":"tick","orient":"vertical","thickness":1.4,"size":16.5,"color":"black","opacity":1},
        "encoding":{
         "y":{"field":"row","type":"nominal","axis":{"title":"non-correlated","labels":false,"ticks":false,"domain":false,"titleFontSize":28,"titlePadding":29,"titleY":64}},
         "yOffset":{"field":"cell","type":"nominal","scale":{"domain":["up","down"],"paddingInner":0,"paddingOuter":0}},
         "x":{"field":"t","type":"quantitative","axis":null}}}
      ]
     },
     {
      "width":164,"height":137,
      "view":{"stroke":"#8c8c8c","strokeWidth":1},
      "data":{"name":"ccg"},"transform":[{"filter":"datum.rec === 'N'"}],
      "mark":{"type":"bar","orient":"vertical","width":1.6,"color":"black"},
      "encoding":{
       "x":{"field":"lag","type":"quantitative","scale":{"domain":[-600,600],"nice":false},
            "axis":{"values":[-500,0,500],"title":null,"grid":false,"domain":false,"ticks":true,"tickSize":14,"tickColor":"#8c8c8c","tickWidth":1.2,
                    "tickOpacity":{"condition":{"test":"datum.value === 0","value":1},"value":0},
                    "labelExpr":"datum.value < 0 ? '-' + (-datum.value) : '' + datum.value",
                    "labelFontSize":21,"labelPadding":2,"labelFlush":false}},
       "y":{"field":"n","type":"quantitative","scale":{"domain":[0,8],"nice":false},
            "axis":{"values":[1,2,3,4,5,6,7,8],"grid":true,"gridColor":"#8c8c8c","gridWidth":1,"labels":false,"ticks":false,"domain":false,"title":null}}
      }
     }
    ]},
   {"bounds":"flush","spacing":54,"resolve":{"scale":{"x":"independent","y":"independent"}},
    "hconcat":[
     {
      "width":400,"height":213,
      "title":{"text":"ASYMPTOMATIC","subtitle":"_________________","fontSize":28,"fontWeight":"bold","baseline":"alphabetic","offset":-7.5,"dx":55,"subtitleFontSize":28.8,"subtitlePadding":-25},
      "layer":[
       {"data":{"name":"lines"},"transform":[{"filter":"datum.rec === 'A'"}],
        "mark":{"type":"rule","color":"black","strokeWidth":1.5},
        "encoding":{
         "y":{"field":"row","type":"nominal","bandPosition":0.5,"scale":{"type":"band","domain":[1,2,3,"scale"],"paddingInner":0.45,"paddingOuter":0},
              "axis":{"title":"correlated","labels":false,"ticks":false,"domain":false,"titleFontSize":28,"titlePadding":29,"titleY":78}},
         "x":{"field":"t0","type":"quantitative","scale":{"domain":[0,3080],"nice":false,"zero":false},"axis":null},
         "x2":{"field":"t1"}}},
       {"data":{"name":"spikes"},"transform":[{"filter":"datum.rec === 'A'"}],
        "mark":{"type":"tick","orient":"vertical","thickness":1.4,"size":16.5,"color":"black","opacity":1},
        "encoding":{
         "y":{"field":"row","type":"nominal","axis":{"title":"correlated","labels":false,"ticks":false,"domain":false,"titleFontSize":28,"titlePadding":29,"titleY":78}},
         "yOffset":{"field":"cell","type":"nominal","scale":{"domain":["up","down"],"paddingInner":0,"paddingOuter":0}},
         "x":{"field":"t","type":"quantitative","axis":null}}},
       {"data":{"name":"scalebar"},
        "mark":{"type":"rule","color":"black","strokeWidth":1.5},
        "encoding":{
         "y":{"field":"row","type":"nominal","bandPosition":0.26},
         "x":{"field":"t0","type":"quantitative"},
         "x2":{"field":"t1"}}},
       {"data":{"name":"scalebar"},
        "mark":{"type":"text","fontSize":26,"dx":65,"dy":23,"align":"center","baseline":"middle","color":"black"},
        "encoding":{
         "y":{"field":"row","type":"nominal","bandPosition":0.26},
         "x":{"field":"t0","type":"quantitative"},
         "text":{"field":"label"}}}
      ]
     },
     {
      "width":162,"height":135,
      "view":{"stroke":"#8c8c8c","strokeWidth":1},
      "data":{"name":"ccg"},"transform":[{"filter":"datum.rec === 'A'"}],
      "mark":{"type":"bar","orient":"vertical","width":1.3,"color":"#111111"},
      "encoding":{
       "x":{"field":"lag","type":"quantitative","scale":{"domain":[-600,600],"nice":false},
            "axis":{"values":[-500,0,500],"title":null,"grid":false,"domain":false,"ticks":true,"tickSize":14,"tickColor":"#8c8c8c","tickWidth":1.2,
                    "tickOpacity":{"condition":{"test":"datum.value === 0","value":1},"value":0},
                    "labelExpr":"datum.value < 0 ? '-' + (-datum.value) : '' + datum.value",
                    "labelFontSize":21,"labelPadding":2,"labelFlush":false}},
       "y":{"field":"n","type":"quantitative","scale":{"domain":[0,8],"nice":false},
            "axis":{"values":[1,2,3,4,5,6,7,8],"grid":true,"gridColor":"#8c8c8c","gridWidth":1,"labels":false,"ticks":false,"domain":false,"title":null}}
      }
     }
    ]}
  ]
 },
 {
  "title":{"text":"B","anchor":"start","frame":"group","fontSize":30,"fontWeight":"bold","baseline":"alphabetic","offset":-86,"dx":-78},
  "bounds":"flush","spacing":53,
  "resolve":{"scale":{"x":"independent","y":"independent","fill":"independent"},"legend":{"fill":"independent"}},
  "hconcat":[
   {"width":15,"height":312,"data":{"values":[{"k":1}]},"mark":{"type":"text"},"encoding":{"text":{"value":""}}},
   {
    "width":244,"height":312,
    "view":{"stroke":"#8c8c8c","strokeWidth":1},
    "title":{"text":"pallidonigral","fontSize":28,"fontWeight":"normal","baseline":"alphabetic","offset":-188,"dx":10},
    "layer":[
     {"data":{"name":"bars"},"transform":[{"filter":"datum.region === 'pallidonigral'"}],
      "mark":{"type":"bar","stroke":"black","strokeWidth":1.3,"width":33},
      "encoding":{
       "x":{"field":"group","type":"nominal","scale":{"domain":["N","aS","P"],"paddingInner":0.595,"paddingOuter":0.294},
            "axis":{"title":null,"tickBand":"extent","labelAngle":0,"labelFontSize":26,"labelPadding":14,"tickSize":7,"tickWidth":1.5,"tickColor":"black","domainColor":"black","domainWidth":1.5}},
       "y":{"field":"pct","type":"quantitative","stack":"zero","scale":{"domain":[0,100],"nice":false},
            "axis":{"title":"neurons (%)","titleFontSize":29,"titlePadding":27,"values":[0,20,40,60,80,100],"tickSize":7,"tickWidth":1.5,"tickColor":"black","domainColor":"black","domainWidth":1.5,"labelFontSize":21,"labelPadding":28,"grid":false}},
       "fill":{"field":"type","type":"nominal","scale":{"domain":["non-correlated","correlated"],"range":["white","black"]},
               "legend":{"orient":"none","legendX":164,"legendY":-195,"title":null,"direction":"vertical","symbolType":"square","symbolSize":196,"symbolStrokeColor":"black","symbolStrokeWidth":1.2,"labelFontSize":22,"labelOffset":13,"rowPadding":27,"padding":16,"strokeColor":"black","fillColor":"white"}},
       "order":{"field":"type","sort":"ascending"}}},
     {"data":{"name":"links"},"transform":[{"filter":"datum.region === 'pallidonigral'"}],
      "mark":{"type":"line","color":"black","strokeWidth":1.3},
      "encoding":{
       "x":{"field":"group","type":"nominal"},
       "xOffset":{"field":"edge","type":"nominal","scale":{"domain":["left","right"],"paddingInner":1,"paddingOuter":0}},
       "y":{"field":"pct","type":"quantitative"},
       "order":{"value":null}}},
     {"data":{"name":"stars"},"transform":[{"filter":"datum.region === 'pallidonigral' && datum.label === '***'"}],
      "mark":{"type":"text","fontSize":21,"angle":-66,"xOffset":-24,"align":"center","baseline":"middle","color":"black"},
      "encoding":{"x":{"field":"group","type":"nominal","bandPosition":0},"y":{"field":"pct","type":"quantitative"},"text":{"field":"label"}}},
     {"data":{"name":"stars"},"transform":[{"filter":"datum.region === 'pallidonigral' && datum.label === '*'"}],
      "mark":{"type":"text","fontSize":21,"xOffset":-21,"align":"center","baseline":"middle","color":"black"},
      "encoding":{"x":{"field":"group","type":"nominal","bandPosition":0},"y":{"field":"pct","type":"quantitative"},"text":{"field":"label"}}}
    ]
   },
   {
    "width":244,"height":312,
    "view":{"stroke":"#8c8c8c","strokeWidth":1},
    "title":{"text":"cerebellar","fontSize":28,"fontWeight":"normal","baseline":"alphabetic","offset":7,"dx":7},
    "layer":[
     {"data":{"name":"bars"},"transform":[{"filter":"datum.region === 'cerebellar'"}],
      "mark":{"type":"bar","stroke":"black","strokeWidth":1.3,"width":33},
      "encoding":{
       "x":{"field":"group","type":"nominal","scale":{"domain":["N","aS","P"],"paddingInner":0.595,"paddingOuter":0.294},
            "axis":{"title":null,"tickBand":"extent","labelAngle":0,"labelFontSize":26,"labelPadding":14,"tickSize":7,"tickWidth":1.5,"tickColor":"black","domainColor":"black","domainWidth":1.5}},
       "y":{"field":"pct","type":"quantitative","stack":"zero","scale":{"domain":[0,100],"nice":false},
            "axis":{"title":null,"labels":false,"values":[0,20,40,60,80,100],"tickSize":7,"tickWidth":1.5,"tickColor":"black","domainColor":"black","domainWidth":1.5,"grid":false}},
       "fill":{"field":"type","type":"nominal","scale":{"domain":["non-correlated","correlated"],"range":["white","black"]},"legend":null},
       "order":{"field":"type","sort":"ascending"}}},
     {"data":{"name":"links"},"transform":[{"filter":"datum.region === 'cerebellar'"}],
      "mark":{"type":"line","color":"black","strokeWidth":1.3},
      "encoding":{
       "x":{"field":"group","type":"nominal"},
       "xOffset":{"field":"edge","type":"nominal","scale":{"domain":["left","right"],"paddingInner":1,"paddingOuter":0}},
       "y":{"field":"pct","type":"quantitative"},
       "order":{"value":null}}}
    ]
   }
  ]
 }
]
}
